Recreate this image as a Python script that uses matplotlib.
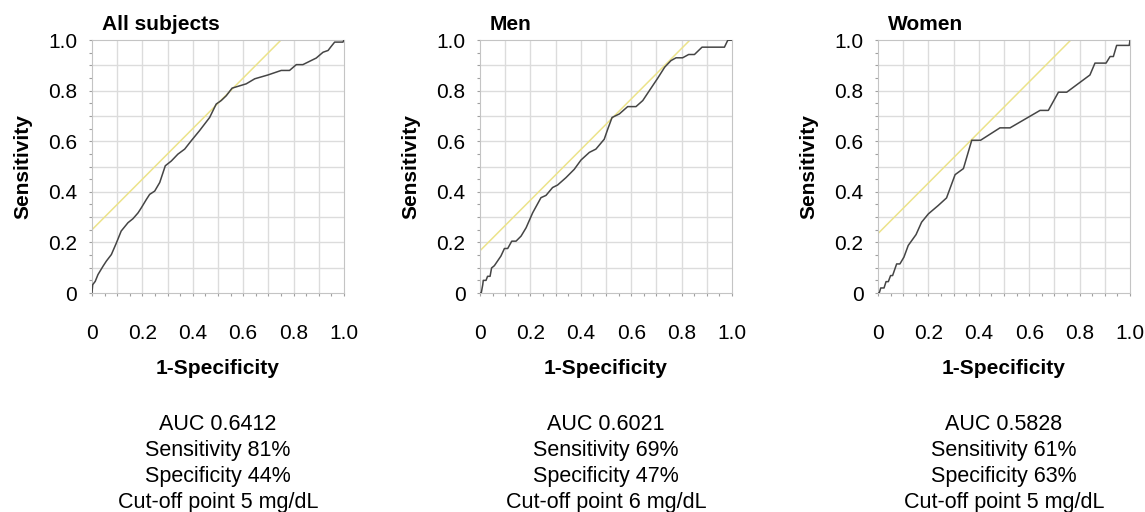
import numpy as np
import matplotlib
matplotlib.use('Agg')
from matplotlib import pyplot as plt

plt.rcParams['font.family'] = ['Liberation Sans', 'DejaVu Sans']

# ROC curves (1-Specificity, Sensitivity)
fpr_all = [0, 0.003, 0.013, 0.024, 0.044, 0.057, 0.077, 0.097, 0.116, 0.143, 0.163, 0.183,
	0.196, 0.216, 0.229, 0.249, 0.269, 0.291, 0.315, 0.341, 0.368, 0.394, 0.427, 0.467,
	0.493, 0.513, 0.533, 0.556, 0.612, 0.646, 0.698, 0.751, 0.784, 0.811, 0.837, 0.890,
	0.917, 0.937, 0.947, 0.963, 0.996, 1.0]
tpr_all = [0, 0.033, 0.046, 0.073, 0.106, 0.126, 0.152, 0.198, 0.245, 0.278, 0.294, 0.317,
	0.337, 0.370, 0.390, 0.403, 0.437, 0.503, 0.522, 0.549, 0.569, 0.602, 0.642, 0.694,
	0.747, 0.761, 0.780, 0.810, 0.827, 0.847, 0.862, 0.880, 0.880, 0.903, 0.903, 0.929,
	0.952, 0.959, 0.972, 0.992, 0.992, 1.0]

fpr_men = [0, 0.005, 0.011, 0.013, 0.024, 0.030, 0.040, 0.046, 0.057, 0.083, 0.097, 0.110,
	0.126, 0.143, 0.163, 0.183, 0.209, 0.242, 0.262, 0.288, 0.308, 0.341, 0.374, 0.401,
	0.434, 0.460, 0.493, 0.507, 0.524, 0.553, 0.586, 0.619, 0.646, 0.672, 0.705, 0.733,
	0.758, 0.778, 0.804, 0.828, 0.851, 0.881, 0.970, 0.983, 1.0]
tpr_men = [0, 0, 0.033, 0.050, 0.050, 0.066, 0.066, 0.099, 0.108, 0.146, 0.176, 0.176,
	0.205, 0.205, 0.225, 0.258, 0.317, 0.377, 0.386, 0.417, 0.427, 0.456, 0.489, 0.526,
	0.556, 0.569, 0.608, 0.648, 0.694, 0.708, 0.737, 0.737, 0.761, 0.800, 0.849, 0.893,
	0.919, 0.930, 0.930, 0.943, 0.943, 0.972, 0.972, 0.999, 1.0]

fpr_women = [0, 0.005, 0.011, 0.024, 0.032, 0.041, 0.050, 0.058, 0.074, 0.087, 0.103, 0.120,
	0.151, 0.173, 0.200, 0.239, 0.272, 0.306, 0.339, 0.372, 0.407, 0.484, 0.524, 0.643,
	0.676, 0.716, 0.749, 0.841, 0.861, 0.905, 0.921, 0.934, 0.947, 0.997, 1.0]
tpr_women = [0, 0, 0.020, 0.020, 0.045, 0.045, 0.069, 0.069, 0.115, 0.115, 0.142, 0.188,
	0.231, 0.280, 0.313, 0.346, 0.376, 0.468, 0.492, 0.604, 0.604, 0.653, 0.653, 0.722,
	0.722, 0.794, 0.794, 0.862, 0.909, 0.909, 0.935, 0.935, 0.979, 0.979, 1.0]

# intercepts of the yellow tangent lines (slope 1)
tangent_intercepts = [0.25, 0.167, 0.235]

titles = ['All subjects', 'Men', 'Women']
auc_values = ['0.6412', '0.6021', '0.5828']
sensitivity = [81, 69, 61]
specificity = [44, 47, 63]
cutoff = [5, 6, 5]

tick_values = [0, 0.2, 0.4, 0.6, 0.8, 1.0]
tick_labels = ['0', '0.2', '0.4', '0.6', '0.8', '1.0']

curves = [(fpr_all, tpr_all), (fpr_men, tpr_men), (fpr_women, tpr_women)]

fig = plt.figure(figsize=(11.45, 5.12), dpi=100)
lefts = [0.0803, 0.4192, 0.7668]

for i in range(3):
	ax = fig.add_axes([lefts[i], 0.4277, 0.2201, 0.494])
	ax.set_xlim(0, 1)
	ax.set_ylim(0, 1)

	# grid every 0.1
	for g in np.arange(0.1, 1.0, 0.1):
		ax.axvline(g, color='#dcdcdc', lw=1, zorder=0)
		ax.axhline(g, color='#dcdcdc', lw=1, zorder=0)

	ax.plot(curves[i][0], curves[i][1], color='#454545', lw=1.1, zorder=3)

	c = tangent_intercepts[i]
	ax.plot([0, 1 - c], [c, 1], color='#ece38a', lw=1.1, zorder=2)

	for s in ax.spines.values():
		s.set_color('#c4c4c4')

	ax.set_xticks(tick_values)
	ax.set_xticklabels(tick_labels)
	ax.set_yticks(tick_values)
	ax.set_yticklabels(tick_labels)
	ax.set_xticks(np.arange(0, 1.01, 0.05), minor=True)
	ax.set_yticks(np.arange(0, 1.01, 0.05), minor=True)
	ax.tick_params(which='both', direction='out', length=2.5, color='#a0a0a0', width=0.8)
	ax.tick_params(axis='x', which='major', labelsize=15, pad=19.5)
	ax.tick_params(axis='y', which='major', labelsize=15, pad=8)

	ax.set_xlabel('1-Specificity', fontsize=15, fontweight='bold')
	ax.xaxis.label.set_va('center')
	ax.xaxis.set_label_coords(0.5, -0.3)
	ax.set_ylabel('Sensitivity', fontsize=15, fontweight='bold')
	ax.yaxis.label.set_va('center')
	ax.yaxis.set_label_coords(-0.275, 0.5)

	ax.text(0.038, 1.04, titles[i], transform=ax.transAxes, fontsize=15,
		fontweight='bold', va='baseline', ha='left')

	info = 'AUC %s\nSensitivity %d%%\nSpecificity %d%%\nCut-off point %d mg/dL' % (
		auc_values[i], sensitivity[i], specificity[i], cutoff[i])
	ax.text(0.5, -0.675, info, transform=ax.transAxes, fontsize=15.5, ha='center',
		va='center', linespacing=1.31)

plt.savefig('out.png', dpi=100)
